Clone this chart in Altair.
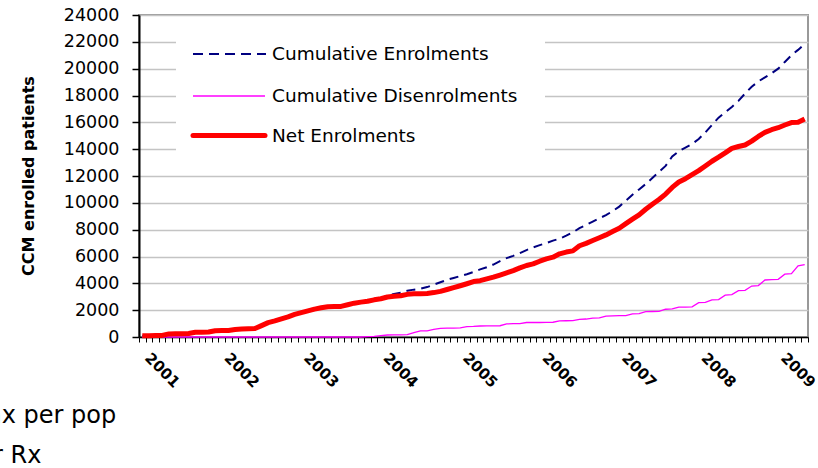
import altair as alt
import pandas as pd

FONT = "DejaVu Sans"

year_labels = [2001, 2002, 2003, 2004, 2005, 2006, 2007, 2008, 2009]
month_index = list(range(101))  # Jan 2001 .. May 2009

net = [
    100, 100, 110, 120, 230, 240, 250, 260, 350, 360,
    370, 470, 480, 490, 560, 600, 610, 630, 850, 1070,
    1200, 1350, 1500, 1680, 1820, 1950, 2080, 2180, 2260, 2270,
    2280, 2400, 2520, 2600, 2660, 2770, 2850, 2980, 3040, 3070,
    3180, 3220, 3220, 3250, 3310, 3400, 3540, 3680, 3820, 3970,
    4130, 4200, 4330, 4460, 4620, 4780, 4950, 5150, 5330, 5450,
    5650, 5820, 5950, 6200, 6330, 6420, 6800, 6980, 7190, 7400,
    7610, 7860, 8110, 8450, 8780, 9100, 9520, 9900, 10250, 10650,
    11150, 11550, 11800, 12100, 12400, 12750, 13100, 13400, 13720, 14060,
    14200, 14310, 14600, 14950, 15250, 15450, 15600, 15800, 15980, 16000,
    16250,
]

enrol = [
    100, 100, 110, 120, 230, 240, 250, 260, 350, 360,
    370, 470, 480, 490, 560, 600, 610, 630, 850, 1070,
    1200, 1350, 1500, 1680, 1820, 1950, 2080, 2180, 2260, 2270,
    2280, 2400, 2520, 2600, 2660, 2770, 2900, 3080, 3200, 3300,
    3440, 3530, 3600, 3720, 3900, 4080, 4260, 4400, 4540, 4680,
    4850, 5040, 5200, 5400, 5650, 5880, 6050, 6250, 6480, 6680,
    6850, 7000, 7180, 7330, 7550, 7800, 8110, 8350, 8600, 8850,
    9080, 9380, 9720, 10150, 10600, 11000, 11400, 11850, 12300, 12750,
    13450, 13850, 14120, 14380, 14760, 15250, 15800, 16350, 16750, 17150,
    17600, 18150, 18650, 19050, 19350, 19650, 20000, 20500, 21000, 21400,
    21830,
]

disenrol = [
    0, 0, 0, 0, 0, 0, 0, 0, 0, 0,
    0, 0, 0, 0, 0, 0, 0, 0, 0, 0,
    0, 0, 0, 0, 0, 0, 0, 0, 0, 0,
    0, 0, 0, 0, 30, 50, 100, 150, 160, 160,
    170, 330, 450, 460, 560, 650, 660, 660, 680, 780,
    790, 820, 830, 830, 840, 980, 990, 1000, 1080, 1080,
    1080, 1090, 1100, 1200, 1210, 1220, 1320, 1340, 1400, 1420,
    1560, 1580, 1590, 1600, 1730, 1740, 1890, 1900, 1910, 2070,
    2090, 2220, 2230, 2250, 2560, 2580, 2770, 2790, 3120, 3160,
    3450, 3480, 3800, 3830, 4250, 4270, 4300, 4680, 4720, 5300,
    5400,
]

y_ticks = list(range(0, 24001, 2000))
legend_labels = ["Cumulative Enrolments", "Cumulative Disenrolments", "Net Enrolments"]
y_title = "CCM enrolled patients"
cut_texts = ["ax per pop", "r Rx"]

df = pd.DataFrame({"m": month_index, "enrol": enrol, "disenrol": disenrol, "net": net})
one = pd.DataFrame({"k": [0]})

x_scale = alt.Scale(domain=[-0.5, 100.5], nice=False, zero=False)
y_scale = alt.Scale(domain=[0, 24000], nice=False, zero=True)

tick_vals = [i - 0.5 for i in range(102)]
year_js = "[" + ",".join(str(y) for y in year_labels) + "]"
label_expr = (
    f"((datum.value + 0.5) % 12 == 0) ? toString({year_js}[(datum.value + 0.5) / 12]) : ''"
)

x_axis = alt.Axis(
    values=tick_vals,
    labelExpr=label_expr,
    labelAngle=45,
    labelAlign="left",
    labelBaseline="top",
    labelOffset=13,
    labelPadding=8,
    labelOverlap=False,
    labelFlush=False,
    labelBound=False,
    labelFont=FONT,
    labelFontSize=15,
    labelFontWeight="bold",
    labelColor="black",
    tickSize=5,
    tickColor="black",
    tickWidth=1,
    domainColor="black",
    domainWidth=1.5,
    grid=False,
    title=None,
)

y_axis = alt.Axis(
    values=y_ticks,
    format="d",
    labelFont=FONT,
    labelFontSize=17.5,
    labelColor="black",
    labelPadding=13,
    tickSize=7,
    tickColor="black",
    tickWidth=1.5,
    domainColor="black",
    domainWidth=2,
    grid=True,
    gridColor="#c4c4c4",
    gridWidth=1.3,
    title=None,
)

base = alt.Chart(df)


def series_line(field, **style):
    return base.mark_line(**style).encode(
        x=alt.X("m:Q", scale=x_scale, axis=x_axis),
        y=alt.Y(f"{field}:Q", scale=y_scale, axis=y_axis),
    )


enrol_line = series_line("enrol", color="#000080", strokeWidth=2, strokeDash=[9, 6])
dis_line = series_line("disenrol", color="#ff00ff", strokeWidth=1.3)
net_line = series_line("net", color="#ff0000", strokeWidth=5, strokeJoin="round")

legend_box = alt.Chart(one).mark_rect(color="white").encode(
    x=alt.value(37), x2=alt.value(406), y=alt.value(13), y2=alt.value(150)
)

leg_blue = alt.Chart(one).mark_rule(color="#000080", strokeWidth=2, strokeDash=[10, 6]).encode(
    x=alt.value(54), x2=alt.value(127), y=alt.value(39)
)
leg_mag = alt.Chart(one).mark_rule(color="#ff00ff", strokeWidth=1.3).encode(
    x=alt.value(54), x2=alt.value(126), y=alt.value(81)
)
leg_red = alt.Chart(one).mark_rule(color="#ff0000", strokeWidth=5, strokeCap="round").encode(
    x=alt.value(54), x2=alt.value(126), y=alt.value(120.5)
)

legend_y = [39, 81, 120.5]
leg_texts = [
    alt.Chart(one).mark_text(
        text=lab, align="left", baseline="middle", font=FONT, fontSize=18.5, color="black"
    ).encode(x=alt.value(133), y=alt.value(yy))
    for lab, yy in zip(legend_labels, legend_y)
]

title_text = alt.Chart(one).mark_text(
    text=y_title, angle=270, align="center", baseline="middle",
    font=FONT, fontSize=16, fontWeight="bold", color="black",
).encode(x=alt.value(-110), y=alt.value(161))

cut1 = alt.Chart(one).mark_text(
    text=cut_texts[0], align="left", baseline="alphabetic", font=FONT, fontSize=24, color="black"
).encode(x=alt.value(-152), y=alt.value(408))
cut2 = alt.Chart(one).mark_text(
    text=cut_texts[1], align="left", baseline="alphabetic", font=FONT, fontSize=24, color="black"
).encode(x=alt.value(-146), y=alt.value(448))

chart = alt.layer(
    enrol_line, dis_line, net_line, legend_box, leg_blue, leg_mag, leg_red,
    *leg_texts, title_text, cut1, cut2,
).properties(
    width=669,
    height=322,
    autosize=alt.AutoSizeParams(type="none"),
    padding={"left": 139, "top": 15, "right": 10, "bottom": 131},
    background="white",
).configure_view(
    stroke="#999999", strokeWidth=2
)

chart.save("out.html", embed_options={"renderer": "svg", "actions": False})
